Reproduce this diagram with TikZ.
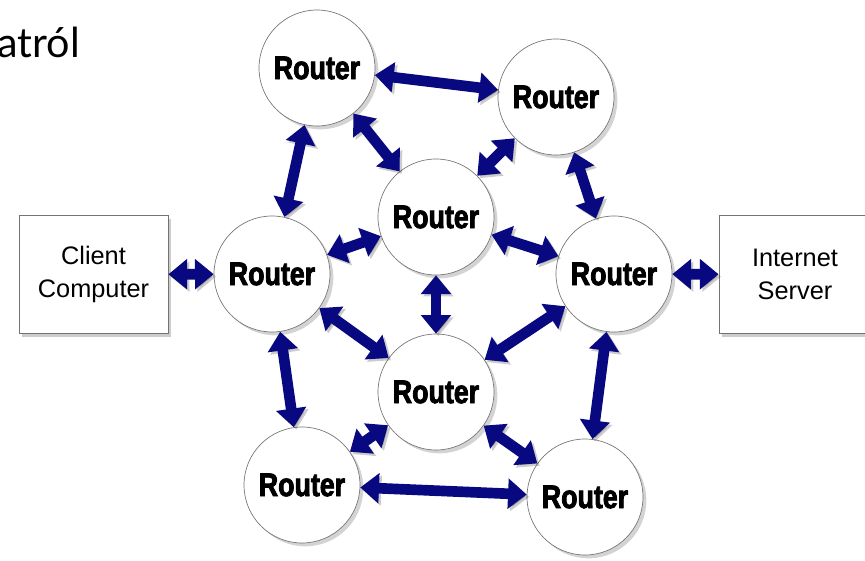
\documentclass[tikz,border=0pt]{standalone}
\usepackage{fontspec}
\setmainfont{Liberation Sans}
\newfontfamily\titlefont{Lato}
\newfontfamily\routerfont[UprightFont={* Bold},FakeStretch=0.82,FakeBold=2.5]{Liberation Sans}
\usetikzlibrary{arrows.meta,shadows}
\definecolor{linkblue}{RGB}{8,8,128}
\tikzset{
  router/.style={circle, draw=black!55, line width=0.5pt, fill=white, minimum size=87pt, inner sep=0pt,
    font=\routerfont\fontsize{24.5}{24.5}\selectfont,
    drop shadow={shadow xshift=2.5pt, shadow yshift=-2.5pt, opacity=0.35}},
  hostbox/.style={rectangle, draw=black!55, line width=0.6pt, fill=white, minimum height=89pt, align=center,
    font=\fontsize{19}{25}\selectfont,
    drop shadow={shadow xshift=2.5pt, shadow yshift=-2.5pt, opacity=0.4}},
  link/.style={linkblue, line width=8pt,
    {Triangle[length=14pt,width=22pt]}-{Triangle[length=14pt,width=22pt]},
    preaction={draw=black, opacity=0.2, transform canvas={shift={(1.8pt,-1.8pt)}}}}
}
\begin{document}
\begin{tikzpicture}[x=0.75pt, y=-0.75pt]
  \useasboundingbox (0,0) rectangle (865,561);

  % titulo cortado
  \node[anchor=base west, inner sep=0pt, font=\titlefont\fontsize{31}{31}\selectfont] (title) at (-3,57) {atról};

  % roteadores
  \node[router] (r1) at (317,68) {Router};
  \node[router] (r2) at (556,97) {Router};
  \node[router] (r3) at (436,217) {Router};
  \node[router] (r4) at (272,274) {Router};
  \node[router] (r5) at (614,274) {Router};
  \node[router] (r6) at (436,392) {Router};
  \node[router] (r7) at (302,485) {Router};
  \node[router] (r8) at (585,497) {Router};

  % computadores
  \node[hostbox, minimum width=111.75pt] (client) at (93.5,274.5) {Client\\Computer};
  \node[hostbox, minimum width=127.5pt, text width=60pt] (server) at (804,274.5) {};
  \node[font=\fontsize{19}{25}\selectfont, align=center] (servertext) at (795,274.5) {Internet\\Server};

  % ligacoes
  \draw[link] (r1) -- (r2);
  \draw[link] (r1) -- (r4);
  \draw[link] (r1) -- (r3);
  \draw[link] (r2) -- (r3);
  \draw[link] (r2) -- (r5);
  \draw[link] (r3) -- (r4);
  \draw[link] (r3) -- (r5);
  \draw[link] (r3) -- (r6);
  \draw[link] (r4) -- (r6);
  \draw[link] (r5) -- (r6);
  \draw[link] (r4) -- (r7);
  \draw[link] (r6) -- (r7);
  \draw[link] (r6) -- (r8);
  \draw[link] (r5) -- (r8);
  \draw[link] (r7) -- (r8);
  \draw[link] (client) -- (r4);
  \draw[link] (r5) -- (server);
\end{tikzpicture}
\end{document}
